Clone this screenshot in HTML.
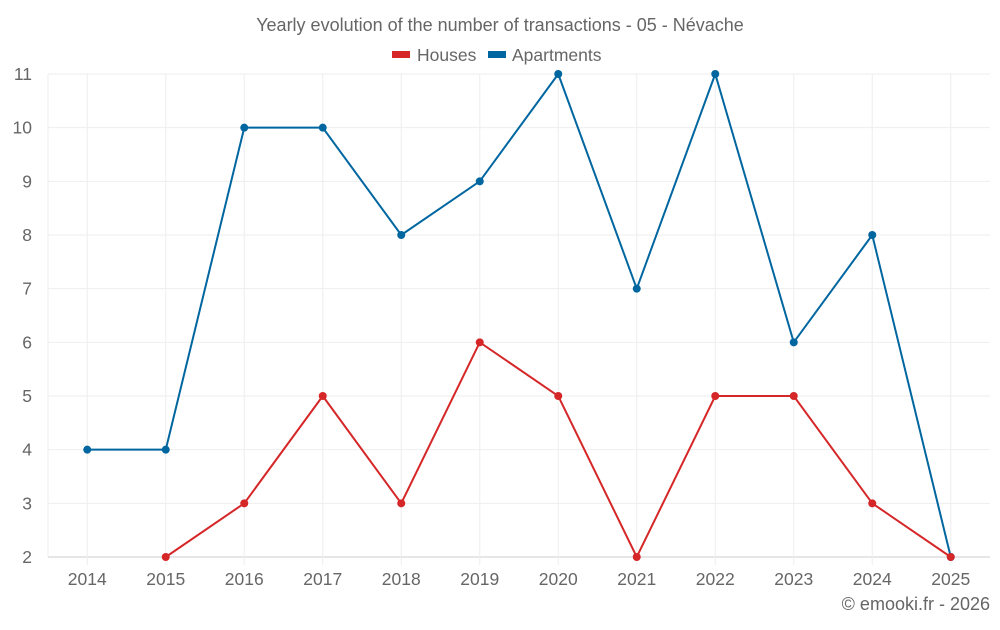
<!DOCTYPE html>
<html><head><meta charset="utf-8"><style>
body{margin:0;background:#fff;font-family:"Liberation Sans",sans-serif}
svg text{font-family:"Liberation Sans",sans-serif;fill:#666}
</style></head><body>
<svg id="c" width="1000" height="625">
<text x="500" y="31" text-anchor="middle" font-size="18">Yearly evolution of the number of transactions - 05 - Névache</text>
<g>
<g><rect x="392" y="51" width="18" height="7" fill="#d62728"/><text x="417" y="61" font-size="17.5">Houses</text></g>
<g><rect x="488" y="51" width="18" height="7" fill="#0066a0"/><text x="512" y="61" font-size="17.5">Apartments</text></g>
</g>
<g id="grid"></g><g id="axes"></g><g id="series"></g>
<text x="990" y="610" text-anchor="end" font-size="18">© emooki.fr - 2026</text>
</svg>
<script>
const years=[2014,2015,2016,2017,2018,2019,2020,2021,2022,2023,2024,2025];
const houses=[null,2,3,5,3,6,5,2,5,5,3,2];
const apartments=[4,4,10,10,8,9,11,7,11,6,8,2];
const yTicks=[2,3,4,5,6,7,8,9,10,11];
const NS="http://www.w3.org/2000/svg";
const L=48,R=990,T=74,B=557,yMin=2,yMax=11;
const bw=(R-L)/years.length;
const x=i=>L+bw*(i+0.5);
const y=v=>B-(v-yMin)/(yMax-yMin)*(B-T);
function mk(tag,attrs,parent){const e=document.createElementNS(NS,tag);for(const k in attrs)e.setAttribute(k,attrs[k]);document.getElementById(parent).appendChild(e);return e;}
yTicks.forEach(t=>{
const l=mk('line',{x1:L,x2:R,y1:y(t),y2:y(t),stroke:t===yMin?'#ccc':'#eee'},'grid');


const tx=mk('text',{x:32,y:y(t)+6,'text-anchor':'end','font-size':17.5},'axes');tx.textContent=t;


});
mk('line',{x1:L,x2:L,y1:T,y2:B,stroke:'#eee'},'grid');
years.forEach((yr,i)=>{
const l=mk('line',{x1:x(i),x2:x(i),y1:T,y2:B+8,stroke:'#eee'},'grid');


const tx=mk('text',{x:x(i),y:585,'text-anchor':'middle','font-size':17.5},'axes');tx.textContent=yr;


});
function series(vals,color,name){
let d='';vals.forEach((v,i)=>{if(v==null)return;d+=(d?'L':'M')+x(i)+','+y(v);});
const p=mk('path',{d:d,fill:'none',stroke:color,'stroke-width':2},'series');


vals.forEach((v,i)=>{if(v==null)return;
const c=mk('circle',{cx:x(i),cy:y(v),r:4,fill:color},'series');

});
}
series(apartments,'#0066a0','apartments');
series(houses,'#d62728','houses');
</script>
</body></html>
